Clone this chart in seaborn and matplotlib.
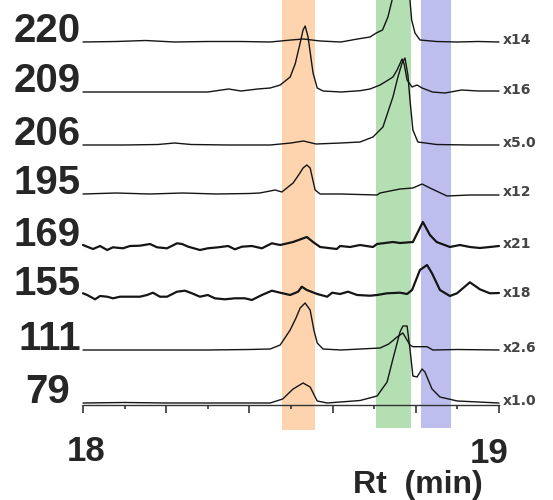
import numpy as np
import pandas as pd
import matplotlib
matplotlib.use("Agg")
import matplotlib.pyplot as plt
import seaborn as sns

sns.set_style("white")
plt.rcParams['font.family'] = ['Liberation Sans', 'DejaVu Sans']

# sample names (left) and scale factors (right), top to bottom
samples = ["220", "209", "206", "195", "169", "155", "111", "79"]
factors = ["x14", "x16", "x5.0", "x12", "x21", "x18", "x2.6", "x1.0"]

# retention time (min) and relative intensity
t220 = [18.00, 18.08, 18.15, 18.22, 18.30, 18.38, 18.45, 18.50, 18.53, 18.57, 18.62, 18.66, 18.69, 18.705,
        18.72, 18.733, 18.743, 18.755, 18.765, 18.775, 18.786, 18.79, 18.798, 18.81, 18.85, 18.90, 18.95, 19.00]
h220 = [0, 0.5, 1.5, 0, 0.5, 0.5, 0, 2, 3, 1, 0, 3, 5, 9,
        12, 25, 42, 62, 70, 62, 42, 22, 9, 2, 0.5, 0, 0.5, 0]

t209 = [18.00, 18.10, 18.20, 18.30, 18.35, 18.38, 18.42, 18.45, 18.474, 18.498, 18.51, 18.522, 18.529, 18.534,
        18.541, 18.553, 18.563, 18.577, 18.62, 18.666, 18.69, 18.714, 18.73, 18.745, 18.755, 18.767, 18.772,
        18.779, 18.791, 18.803, 18.815, 18.84, 18.87, 18.91, 18.95, 19.00]
h209 = [0, 0, 0, 0, 3, 1, 3, 4, 7, 15, 28, 49, 62, 66,
        55, 19, 4, 1, 0, 1.3, 3, 7, 11, 15, 22, 33, 28,
        12, 5, 7, 4, 0, -1, 2, 1, 1]

t206 = [18.00, 18.10, 18.18, 18.22, 18.26, 18.35, 18.45, 18.50, 18.53, 18.56, 18.62, 18.666, 18.697, 18.721,
        18.745, 18.757, 18.767, 18.774, 18.781, 18.786, 18.793, 18.805, 18.85, 18.93, 19.00]
h206 = [0, 0, 0.5, 2, 0.5, 0, 0, 2, 4, 1, 2, 3, 8, 18,
        48, 68, 82, 87, 70, 45, 15, 3, 0.5, 0, 0]

t195 = [18.00, 18.08, 18.16, 18.24, 18.32, 18.40, 18.425, 18.462, 18.478, 18.505, 18.52, 18.529, 18.538,
        18.546, 18.558, 18.57, 18.62, 18.707, 18.714, 18.762, 18.793, 18.815, 18.834, 18.875, 18.93, 19.00]
h195 = [0, 1, 0, 1, 0, 0.5, 1, 4, 2, 11, 20, 26, 29,
        26, 4, 0, 0, -1, 1, 5, 6, 10, 6, -2, -1, -1]

t169 = [18.000, 18.010, 18.024, 18.041, 18.058, 18.072, 18.096, 18.113, 18.137, 18.161,
        18.178, 18.202, 18.226, 18.238, 18.253, 18.281, 18.300, 18.325, 18.349, 18.365,
        18.382, 18.406, 18.430, 18.454, 18.474, 18.505, 18.538, 18.553, 18.570, 18.610,
        18.618, 18.642, 18.666, 18.697, 18.707, 18.745, 18.762, 18.793, 18.817, 18.834,
        18.850, 18.882, 18.906, 18.930, 18.954, 18.978, 19.000]
h169 = [1, -0.7, -3, 0, -4, -1.3, -2.3, 0, 0.3, 2,
        -1.3, -2.3, 2.7, 2, -0.7, -4, -2.3, -1.3, 0, -3.3,
        -0.7, 0, -2.3, 2.7, 1, 4, 9, 4, -1, -3,
        0, -1, 1, -1, 2, 4, 3, 4, 24, 11,
        4, -1, 1, -1, -2, -1, 0]

t155 = [18.000, 18.010, 18.029, 18.041, 18.058, 18.072, 18.089, 18.113, 18.137, 18.154,
        18.168, 18.185, 18.202, 18.226, 18.245, 18.262, 18.281, 18.300, 18.317, 18.341,
        18.365, 18.389, 18.406, 18.430, 18.454, 18.474, 18.498, 18.517, 18.526, 18.538,
        18.563, 18.587, 18.599, 18.618, 18.637, 18.659, 18.690, 18.707, 18.731, 18.762,
        18.779, 18.791, 18.810, 18.827, 18.839, 18.858, 18.882, 18.899, 18.930, 18.954,
        18.978, 19.000]
h155 = [1.7, 0, -4.3, -1, -1.7, -3.3, -1.7, -1.7, -1.7, 0,
        2.3, -1.7, -1.7, 3.3, 4.3, 1.7, -1.7, 0, -3.3, -4.3,
        -3.3, -3.3, -5, 0, 4.3, 2.3, 0, 3.3, 8.3, 5,
        1, -1.7, 2.3, 1, 3.3, 0, -0.7, 0, 1.7, 2.3,
        1, 5, 25, 30, 21.7, 5, -1, 1.7, 12.7, 5.7,
        1.7, 2]

t111 = [18.00, 18.10, 18.20, 18.30, 18.40, 18.45, 18.474, 18.498, 18.512, 18.522, 18.534, 18.546, 18.555,
        18.563, 18.577, 18.62, 18.714, 18.735, 18.755, 18.769, 18.786, 18.793, 18.827, 18.841, 18.90, 19.00]
h111 = [0, 0, 0, 0, 0.5, 1, 5, 20, 32, 42, 47, 40, 20,
        7, 1, 0, 2, 6, 13, 17, 5, 3.3, 3.3, 0, 0.5, 0]

t79 = [18.00, 18.10, 18.20, 18.30, 18.40, 18.45, 18.48, 18.505, 18.529, 18.546, 18.563, 18.587, 18.666,
       18.707, 18.731, 18.745, 18.762, 18.769, 18.779, 18.786, 18.793, 18.803, 18.815, 18.822, 18.839,
       18.858, 18.90, 18.95, 19.00]
h79 = [0, 0.5, 0, 0, 0, 0, 4, 14, 20, 16, 2, 0, 2.5,
       7, 21, 44, 71, 77, 77, 54, 27, 26, 34, 31, 14,
       6, 2, 1, 0]

times = [t220, t209, t206, t195, t169, t155, t111, t79]
heights = [h220, h209, h206, h195, h169, h155, h111, h79]

# highlighted retention windows (min)
bands = [(18.478, 18.558), (18.704, 18.788), (18.813, 18.885)]
band_colors = ["#FDD4AE", "#B3DFB2", "#BEBEEE"]

# layout: vertical stacking offsets (baselines)
offsets = [458, 408, 355, 306, 254, 205, 150, 97]
noisy = {"169", "155"}

frames = []
for name, t, h, off in zip(samples, times, heights, offsets):
    frames.append(pd.DataFrame({"sample": name, "time": t, "signal": np.array(h) + off}))
df = pd.concat(frames, ignore_index=True)

fig = plt.figure(figsize=(5.53, 5.0), dpi=100)
ax = fig.add_axes([0, 0, 1, 1])

for (a, b), c, ymin in zip(bands, band_colors, [70, 72, 72]):
    ax.axvspan(a, b, ymin=ymin / 500, ymax=1, color=c, lw=0, zorder=0)

for name in samples:
    sub = df[df["sample"] == name]
    sns.lineplot(data=sub, x="time", y="signal", ax=ax, color="#151515",
                 lw=1.6 if name in noisy else 1.0, estimator=None, sort=False,
                 legend=False, zorder=3)

ax.set_xlim(18 - 83 / 416, 18 + 470 / 416)
ax.set_ylim(0, 500)
ax.set_xlabel("")
ax.set_ylabel("")
ax.set_yticks([])

for s in ["top", "right", "left"]:
    ax.spines[s].set_visible(False)
ax.spines["bottom"].set_position(("data", 95))
ax.spines["bottom"].set_bounds(18, 19)
ax.spines["bottom"].set_color("#333333")
ax.spines["bottom"].set_linewidth(1.0)
ax.set_xticks(np.round(np.arange(18, 19.01, 0.2), 1))
ax.set_xticks(np.round(np.arange(18.1, 19.0, 0.2), 1), minor=True)
ax.tick_params(axis="x", which="both", bottom=True, direction="out", labelbottom=False)
ax.tick_params(axis="x", which="major", length=6, width=1.2, colors="#333333")
ax.tick_params(axis="x", which="minor", length=3, width=1.2, colors="#333333")

# sample labels and scale factors
for name, f, off in zip(samples, factors, offsets):
    xl = 17.969 if name == "79" else 17.995
    ax.text(xl, off, name, ha="right", va="baseline", fontsize=29, fontweight="bold")
    ax.text(19.008, off + 2, f, ha="left", va="center", fontsize=10, fontweight="bold",
            color="#444444", family="DejaVu Sans")

ax.text(18.007, 39, "18", ha="center", va="baseline", fontsize=25, fontweight="bold")
ax.text(18.976, 37, "19", ha="center", va="baseline", fontsize=25, fontweight="bold")
ax.text(18.805, 7, "Rt  (min)", ha="center", va="baseline", fontsize=23, fontweight="bold")

fig.savefig("out.png", dpi=100)
